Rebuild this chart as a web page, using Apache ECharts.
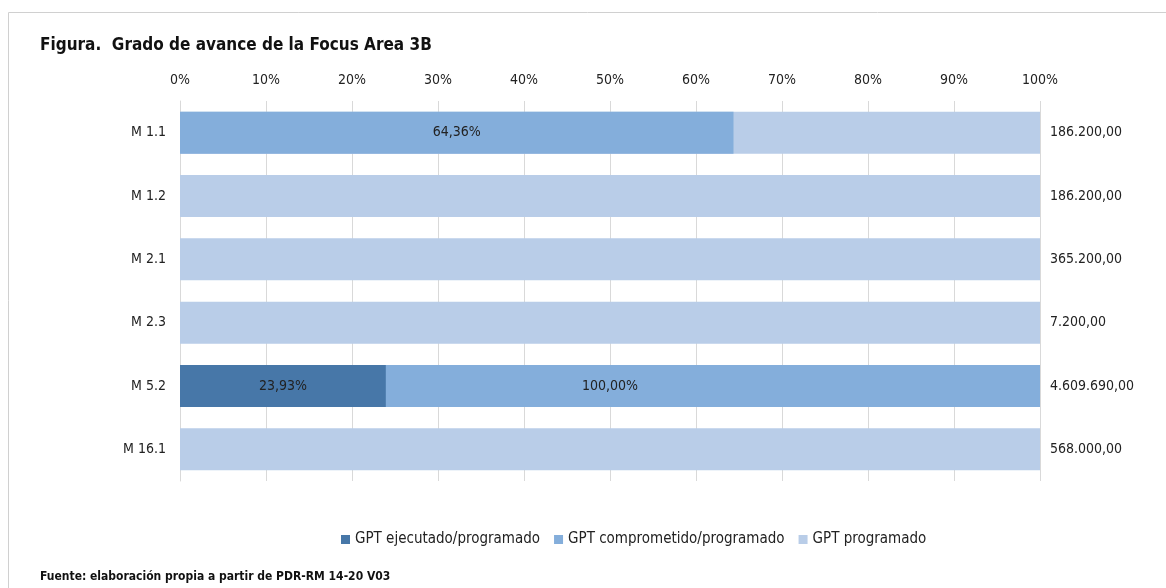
<!DOCTYPE html>
<html>
<head>
<meta charset="utf-8">
<script src="https://cdn.jsdelivr.net/npm/echarts@6/dist/echarts.min.js"></script>
<style>
  html, body { margin: 0; padding: 0; background: #fff; }
  #chart { width: 1166px; height: 588px; }
</style>
</head>
<body>
<div id="chart"></div>
<script>
// categorias (de arriba a abajo)
const medidas = ['M 1.1', 'M 1.2', 'M 2.1', 'M 2.3', 'M 5.2', 'M 16.1']
// porcentajes
const ejecutado = [null, null, null, null, 23.93, null]
const comprometido = [64.36, null, null, null, 100, null]
const programado = [100, 100, 100, 100, 100, 100]
// importe programado (euros)
const importes = [186200, 186200, 365200, 7200, 4609690, 568000]
const xTicks = [0, 10, 20, 30, 40, 50, 60, 70, 80, 90, 100]

const FONT = '"Liberation Sans Narrow", "DejaVu Sans Condensed", sans-serif'

function fmtPct(v) {
  return v.toFixed(2).replace('.', ',') + '%'
}
function fmtEur(v) {
  const parts = v.toFixed(2).split('.')
  return parts[0].replace(/\B(?=(\d{3})+(?!\d))/g, '.') + ',' + parts[1]
}

const chart = echarts.init(document.getElementById('chart'))

chart.setOption({
  animation: false,
  textStyle: { fontFamily: FONT },
  graphic: [
    {
      type: 'rect',
      shape: { x: 8.5, y: 12.5, width: 1170, height: 600 },
      style: { fill: 'none', stroke: '#d0d0d0', lineWidth: 1 }
    },
    {
      type: 'text',
      left: 40,
      top: 37,
      style: {
        text: 'Figura.  Grado de avance de la Focus Area 3B',
        fontSize: 17,
        fontWeight: 'bold',
        fontFamily: FONT,
        fill: '#111'
      }
    },
    {
      type: 'text',
      left: 40,
      top: 571,
      style: {
        text: 'Fuente: elaboración propia a partir de PDR-RM 14-20 V03',
        fontSize: 12,
        fontWeight: 'bold',
        fontFamily: FONT,
        fill: '#111'
      }
    }
  ],
  legend: {
    data: ['GPT ejecutado/programado', 'GPT comprometido/programado', 'GPT programado'],
    left: 336,
    top: 527,
    itemWidth: 9,
    itemHeight: 9,
    itemGap: 14,
    icon: 'rect',
    textStyle: { fontSize: 15, color: '#222', fontFamily: FONT }
  },
  grid: {
    left: 180,
    right: 126,
    top: 101,
    height: 380
  },
  xAxis: {
    type: 'value',
    position: 'top',
    min: xTicks[0],
    max: xTicks[xTicks.length - 1],
    interval: 10,
    axisLine: { show: false },
    axisTick: { show: false },
    axisLabel: {
      formatter: v => v + '%',
      fontSize: 14,
      color: '#222',
      margin: 14
    },
    splitLine: { lineStyle: { color: '#d9d9d9', width: 1 } }
  },
  yAxis: {
    type: 'category',
    data: medidas,
    inverse: true,
    axisLine: { show: true, lineStyle: { color: '#d9d9d9' } },
    axisTick: { show: false },
    axisLabel: { fontSize: 14, color: '#222', margin: 14 }
  },
  series: [
    {
      name: 'GPT programado',
      type: 'bar',
      data: programado,
      barWidth: 42,
      barGap: '-100%',
      z: 1,
      itemStyle: { color: '#b9cde8' },
      label: {
        show: true,
        position: 'right',
        distance: 10,
        fontSize: 14,
        color: '#222',
        formatter: p => fmtEur(importes[p.dataIndex])
      }
    },
    {
      name: 'GPT comprometido/programado',
      type: 'bar',
      data: comprometido,
      barWidth: 42,
      barGap: '-100%',
      z: 2,
      itemStyle: { color: '#84aedb' },
      label: {
        show: true,
        position: 'inside',
        fontSize: 14,
        color: '#222',
        formatter: p => fmtPct(p.value)
      }
    },
    {
      name: 'GPT ejecutado/programado',
      type: 'bar',
      data: ejecutado,
      barWidth: 42,
      barGap: '-100%',
      z: 3,
      itemStyle: { color: '#4777a8' },
      label: {
        show: true,
        position: 'inside',
        fontSize: 14,
        color: '#222',
        formatter: p => fmtPct(p.value)
      }
    }
  ]
})
</script>
</body>
</html>
